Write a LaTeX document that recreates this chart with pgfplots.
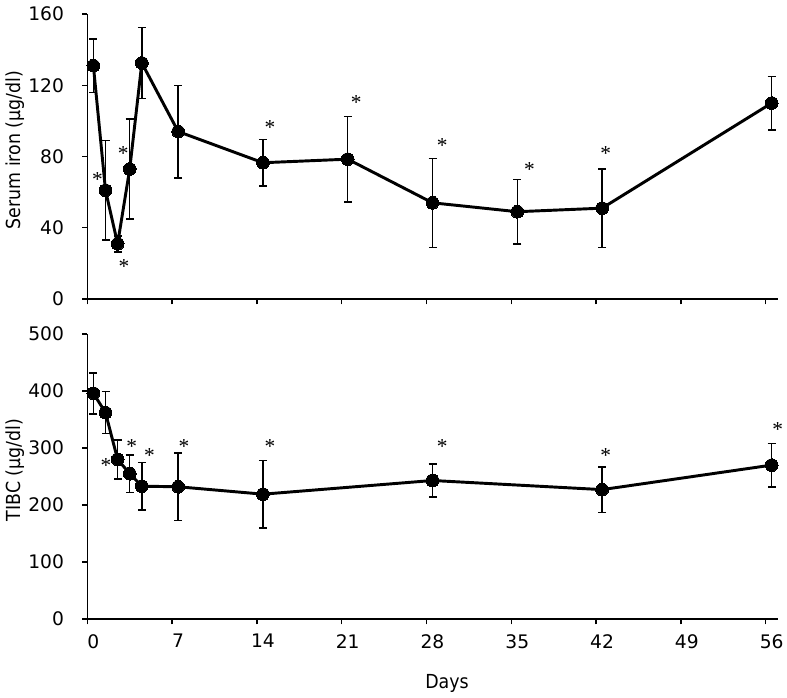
\documentclass[border=0pt]{standalone}
\usepackage{pgfplots}
\usepackage{pgfplotstable}
\pgfplotsset{compat=1.18}
\usepackage{fontspec}
\setmainfont{DejaVu Sans}
\newfontfamily\condfont{DejaVu Sans Condensed}
\newfontfamily\starfont{Liberation Serif}

\pgfplotstableread{
x y e
0.5 131 15
1.5 61 28
2.5 31 4.5
3.5 73 28
4.5 132.5 20
7.5 94 26
14.5 76.5 13
21.5 78.5 24
28.5 54 25
35.5 49 18
42.5 51 22
56.5 110 15
}\topdata

\pgfplotstableread{
x y e
0.5 396 36
1.5 362 37
2.5 280 34
3.5 255 33
4.5 233 42
7.5 232 59
14.5 219 59
28.5 243 29
42.5 227 40
56.5 270 38
}\botdata

\pgfplotsset{
  panel/.style={
    scale only axis, width=517.8pt, height=213.75pt,
    xmin=0, xmax=57, ymin=0,
    axis x line*=bottom, axis y line*=left,
    axis line style={line width=1.1pt, black},
    tick align=outside, major tick length=4pt,
    tick style={line width=1.1pt, black},
    xtick={0,7,...,56},
    /pgf/number format/assume math mode=true,
    tick label style={font=\fontsize{14}{16}\selectfont},
    yticklabel style={xshift=-10pt},
    xticklabel style={xshift=4.5pt, yshift=-4pt},
    every axis y label/.style={at={(axis description cs:-0.104,0.523)}, rotate=90, anchor=center, font=\condfont\fontsize{14.5}{16}\selectfont},
    clip=false,
  },
  series/.style={black, line width=2.2pt, mark=*, mark size=4.8pt,
    mark options={line width=0pt},
    error bars/.cd, y dir=both, y explicit,
    error bar style={line width=1.1pt},
    error mark options={rotate=90, mark size=3pt, line width=1.1pt}},
}
\newcommand{\st}{\starfont\fontsize{16}{16}\selectfont *}

\begin{document}
\begin{tikzpicture}
\useasboundingbox (0,0) rectangle (590.25pt,522.75pt);
\begin{axis}[panel, at={(65.5pt,298.5pt)}, anchor=south west,
  ymax=160, ytick={0,40,...,160}, xticklabels={},
  ylabel={Serum iron (µg/dl)}]
\addplot[series] table[x=x,y=y,y error=e]{\topdata};
\node at (axis cs:0.83,66.8) {\st};
\node at (axis cs:3.03,18.5) {\st};
\node at (axis cs:2.97,81.4) {\st};
\node at (axis cs:15.07,96.2) {\st};
\node at (axis cs:22.2,110.4) {\st};
\node at (axis cs:29.3,86.3) {\st};
\node at (axis cs:36.5,72.8) {\st};
\node at (axis cs:42.8,81.4) {\st};
\end{axis}
\begin{axis}[panel, at={(65.5pt,58.5pt)}, anchor=south west,
  ymax=500, ytick={0,100,...,500},
  ylabel={TIBC (µg/dl)},
  xlabel={Days},
  every axis x label/.style={at={(axis description cs:0.521,-0.2246)}, anchor=center, font=\condfont\fontsize{14.5}{16}\selectfont}]
\addplot[series] table[x=x,y=y,y error=e]{\botdata};
\node at (axis cs:1.54,270) {\st};
\node at (axis cs:3.66,302) {\st};
\node at (axis cs:5.12,286.5) {\st};
\node at (axis cs:7.98,302) {\st};
\node at (axis cs:15.07,302) {\st};
\node at (axis cs:29.3,302) {\st};
\node at (axis cs:42.8,286) {\st};
\node at (axis cs:57.0,331.6) {\st};
\end{axis}
\end{tikzpicture}
\end{document}
